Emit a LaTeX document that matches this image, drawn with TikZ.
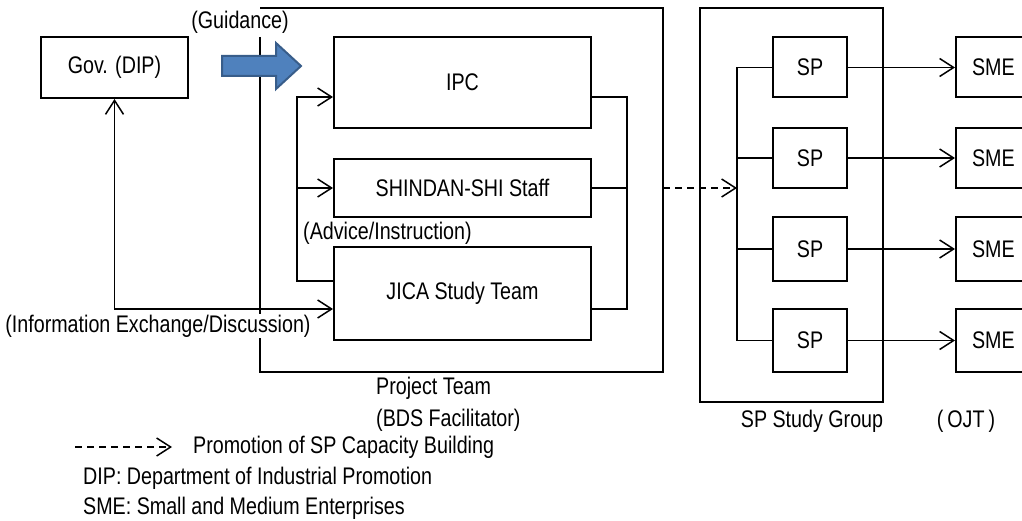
\documentclass[tikz,border=0pt]{standalone}
\usepackage{fontspec}
\setmainfont[FakeStretch=0.82]{Liberation Sans}
\usetikzlibrary{arrows.meta}
\definecolor{arrowfill}{HTML}{4F81BD}
\definecolor{arrowedge}{HTML}{385D8A}
\tikzset{
  openhead/.tip={Straight Barb[length=14pt,width=18pt]},
  every node/.style={font=\fontsize{24}{28}\selectfont, inner sep=1pt},
  boxline/.style={line width=2pt},
  unit/.style={draw, boxline, minimum width=#1, inner sep=0pt},
  conn/.style={line width=1.5pt},
  lbl/.style={fill=white, inner sep=1pt},
  dashline/.style={dash pattern=on 7pt off 5pt}
}
\begin{document}
\begin{tikzpicture}[x=1pt,y=-1pt]
\useasboundingbox (0,0) rectangle (1022,521);
\clip (0,0) rectangle (1022,521);

% outer frames
\node[draw=none, minimum width=403, minimum height=364, inner sep=0pt] (proj) at (461.5,190) {};
\draw[boxline] ([yshift=-29pt]proj.north west) -- (proj.south west) -- (proj.south east)
  -- (proj.north east) -- (proj.north west);
\node[draw, boxline, minimum width=183, minimum height=394, inner sep=0pt] (spg) at (791.5,205) {};

% government
\node[unit=147, minimum height=61] (gov) at (114.5,67.5) {Gov. (DIP)};

% project team members
\node[unit=257, minimum height=91] (ipc) at (462.5,82.5) {IPC};
\node[unit=257, minimum height=58] (shindan) at (462.5,188) {SHINDAN-SHI Staff};
\node[unit=257, minimum height=93] (jica) at (462.5,293.5) {JICA Study Team};

% service providers and enterprises
\foreach \i/\y/\h in {1/67.5/60, 2/158/60, 3/249/63, 4/340.5/63}{
  \node[unit=74, minimum height=\h] (sp\i) at (810,\y) {SP};
  \node[unit=74, minimum height=\h, text width=72, align=left, inner sep=0pt] (sme\i) at (993,\y) {\hspace{15pt}SME};
}

% guidance arrow
\draw[line width=2pt, arrowedge, fill=arrowfill]
  (222,56) -- (276,56) -- (276,43) -- (301,66) -- (276,89) -- (276,76) -- (222,76) -- cycle;

% helper coordinates for the buses
\coordinate (lbTop) at (297,97);
\coordinate (lbBot) at (297,281);
\coordinate (rb) at (627,0);
\coordinate (jy) at (0,309);
\coordinate (spb) at (737,0);

% left bus into the team
\draw[conn,-{openhead}] (lbBot -| jica.west) -- (lbBot) -- (lbTop) -- (lbTop -| ipc.west);
\draw[conn,-{openhead}] (lbTop |- shindan.west) -- (shindan.west);

% right bus out of the team
\draw[conn] (lbTop -| ipc.east) -- (lbTop -| rb) -- (jy -| rb) -- (jy -| jica.east);
\draw[conn] (shindan.east) -- (shindan.east -| rb);

% government exchange
\draw[conn,{openhead}-{openhead}] (gov.south) -- (gov.south |- jy) -- (jy -| jica.west);

% capacity building promotion
\draw[conn,dashline,-{openhead}] (shindan.east -| proj.east) -- (shindan.east -| spb);

% study group bus
\draw[conn] (sp1.west) -- (sp1.west -| spb) -- (sp4.west -| spb) -- (sp4.west);
\draw[conn] (sp2.west) -- (sp2.west -| spb);
\draw[conn] (sp3.west) -- (sp3.west -| spb);
\foreach \i in {1,...,4}{
  \draw[conn,-{openhead}] (sp\i.east) -- (sme\i.west);
}

% labels
\node[lbl] (guid) at (240,22) {(Guidance)};
\node[lbl, anchor=west] (advice) at (302,233) {(Advice/Instruction)};
\node[lbl] (info) at (158,326) {(Information Exchange/Discussion)};
\node[anchor=west] (projlbl) at (375,388) {Project Team};
\node[anchor=west] (bdslbl) at (375,420) {(BDS Facilitator)};
\node (spglbl) at (812,421) {SP Study Group};
\node (ojt) at (966,421) {(\hspace{4pt}OJT\hspace{4pt})};

% legend
\coordinate (legA) at (75,447);
\coordinate (legB) at (172,447);
\draw[conn,dashline,-{openhead}] (legA) -- (legB);
\node[anchor=west] (leg1) at (192,447) {Promotion of SP Capacity Building};
\node[anchor=west] (leg2) at (82,478) {DIP: Department of Industrial Promotion};
\node[anchor=west] (leg3) at (82,508) {SME: Small and Medium Enterprises};
\end{tikzpicture}
\end{document}
